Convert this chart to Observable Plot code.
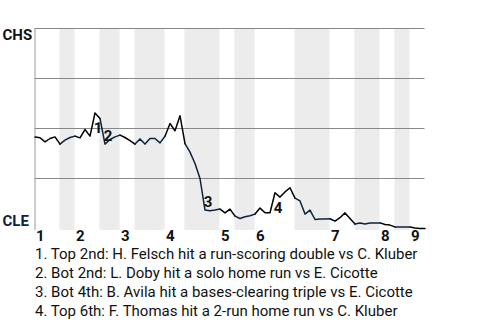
<!DOCTYPE html>
<html><head><meta charset="utf-8">
<script src="https://cdn.jsdelivr.net/npm/d3@7"></script>
<script src="https://cdn.jsdelivr.net/npm/@observablehq/plot@0.6"></script>
<style>
body{margin:0;background:#fff;font-family:Roboto,sans-serif;}
#chart svg{display:block;}
#notes{padding-left:35px;font-size:15px;line-height:13px;color:#111;}
#notes div{margin-bottom:6px;white-space:nowrap;}
</style></head><body>
<div id="chart"></div>
<div id="notes"></div>
<script>
// CHS win probability (%) after each play
const winProb = [
  45.8, 45.4, 43.3, 45.0, 45.8, 42.2, 44.2, 45.5, 46.2, 45.3,
  49.5, 46.2, 57.8, 55.0, 42.2, 44.5, 45.8, 46.7, 45.5, 43.9,
  42.2, 44.8, 42.2, 45.0, 45.0, 42.8, 46.1, 52.5, 48.9, 56.4,
  42.4, 38.2, 32.5, 25.0, 9.2, 8.9, 9.2, 9.7, 7.8, 9.7,
  6.2, 5.0, 5.9, 6.4, 7.2, 10.2, 7.9, 7.9, 17.9, 15.7,
  18.3, 20.4, 15.2, 13.8, 7.2, 9.2, 4.5, 4.7, 4.7, 4.9,
  3.7, 5.4, 7.8, 5.0, 2.2, 2.8, 2.2, 2.8, 2.8, 2.8,
  2.0, 1.7, 0.8, 0.8, 0.8, 0.8, 0.3, 0.0, 0.0
];
const innings = [1, 2, 3, 4, 5, 6, 7, 8, 9];
const topStart = [0, 8, 17, 26, 37, 44, 59, 69, 75];
const botStart = [5, 13, 20, 30, 40, 52, 64, 72];
const gameEnd = 78;
const gridValues = [25, 50, 75, 100];
const teamNames = ["CHS", "CLE"];
const teamValues = [100, 0];
const eventPlay = [12, 14, 34, 48];
const eventLabel = ["1", "2", "3", "4"];
const eventText = [
  "1. Top 2nd: H. Felsch hit a run-scoring double vs C. Kluber",
  "2. Bot 2nd: L. Doby hit a solo home run vs E. Cicotte",
  "3. Bot 4th: B. Avila hit a bases-clearing triple vs E. Cicotte",
  "4. Top 6th: F. Thomas hit a 2-run home run vs C. Kluber"
];

const halves = [];
innings.forEach((inn, i) => {
  halves.push({side: "top", start: topStart[i], end: botStart[i] !== undefined ? botStart[i] : gameEnd});
  if (botStart[i] !== undefined) halves.push({side: "bot", start: botStart[i], end: topStart[i + 1]});
});
const linePts = halves.flatMap((h, j) =>
  d3.range(h.start, h.end + 1).map(k => ({k, v: winProb[k], half: j, side: h.side})));
const events = eventPlay.map((k, i) => ({
  k, v: winProb[k], label: eventLabel[i],
  side: halves.find(h => k > h.start && k <= h.end).side
}));
const inningLabels = innings.map((n, i) => ({n: String(n), k: topStart[i]}));

const NAVY = "#0c2340";
const chart = Plot.plot({
  width: 480, height: 248,
  marginLeft: 34.5, marginRight: 55.5, marginTop: 28, marginBottom: 18,
  x: {domain: [0, gameEnd], axis: null},
  y: {domain: [-1, 100], axis: null},
  style: {fontFamily: "Roboto, sans-serif", background: "#fff", overflow: "visible"},
  marks: [
    Plot.rect(halves.filter(h => h.side === "bot"), {x1: "start", x2: "end", fill: "#ececec"}),
    Plot.ruleY(gridValues, {stroke: "#888"}),
    Plot.ruleX([0], {stroke: "#999"}),
    Plot.line(linePts.filter(d => d.side === "top"), {x: "k", y: "v", z: "half", stroke: "#000", strokeWidth: 1.5}),
    Plot.line(linePts.filter(d => d.side === "bot"), {x: "k", y: "v", z: "half", stroke: NAVY, strokeWidth: 1.5}),
    Plot.text(events.filter(e => e.side === "top"), {x: "k", y: "v", text: "label", dx: 3, dy: 15, fontSize: 15, fontWeight: "bold", fill: "#111"}),
    Plot.text(events.filter(e => e.side === "bot"), {x: "k", y: "v", text: "label", dx: 3, dy: -8, fontSize: 15, fontWeight: "bold", fill: "#111"}),
    Plot.text(inningLabels, {x: "k", y: -1, text: "n", textAnchor: "start", lineAnchor: "top", dx: 1, dy: 0.3, fontSize: 15, fontWeight: "bold", fill: "#111"}),
    Plot.text([0], {y: teamValues[0], text: [teamNames[0]], frameAnchor: "left", textAnchor: "start", lineAnchor: "top", dx: -32.5, dy: 1.3, fontSize: 15, fontWeight: "bold", fill: "#111"}),
    Plot.text([0], {y: teamValues[1], text: [teamNames[1]], frameAnchor: "left", textAnchor: "start", lineAnchor: "bottom", dx: -32.5, dy: -3, fontSize: 15, fontWeight: "bold", fill: NAVY})
  ]
});
document.getElementById("chart").append(chart);
const notes = document.getElementById("notes");
eventText.forEach(t => { const d = document.createElement("div"); d.textContent = t; notes.append(d); });
</script>
</body></html>
